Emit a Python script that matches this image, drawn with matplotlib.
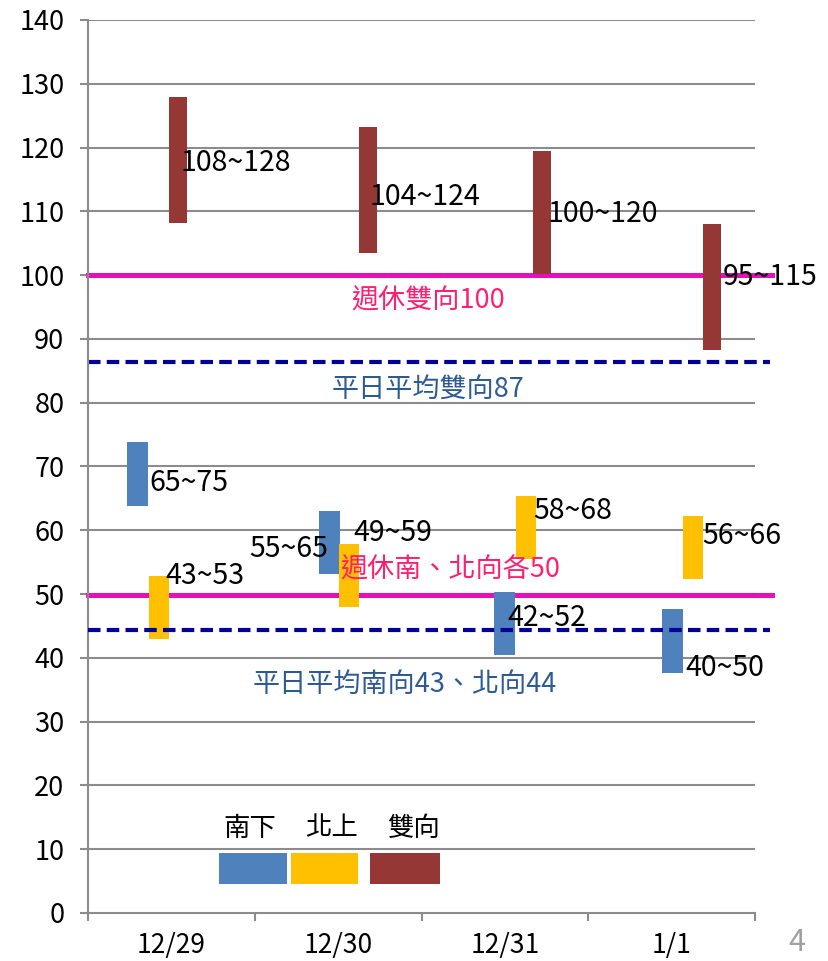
import matplotlib
matplotlib.use('Agg')
import matplotlib.pyplot as plt

plt.rcParams['font.family'] = ['Noto Sans CJK TC', 'DejaVu Sans']

# data
dates = ['12/29', '12/30', '12/31', '1/1']
south_low = [63.85, 53.2, 40.5, 37.7]
south_high = [73.8, 63.0, 50.3, 47.7]
north_low = [43.0, 48.0, 55.5, 52.4]
north_high = [52.8, 57.8, 65.4, 62.2]
both_low = [108.2, 103.5, 100.2, 88.3]
both_high = [127.9, 123.2, 119.5, 108.0]

south_labels = ['65~75', '55~65', '42~52', '40~50']
north_labels = ['43~53', '49~59', '58~68', '56~66']
both_labels = ['108~128', '104~124', '100~120', '95~115']

weekend_both = 100
weekday_both = 86.4
weekend_each = 49.85
weekday_each = 44.4

series_names = ['南下', '北上', '雙向']
colors = ['#4F81BD', '#FFC000', '#953735']

# layout (hand placed in the source slide)
south_x = [-0.203, 0.948, 1.998, 3.005]
north_x = [-0.074, 1.065, 2.124, 3.128]
both_x = [0.040, 1.179, 2.223, 3.242]

fig = plt.figure(figsize=(8.29, 9.61), dpi=100)
ax = fig.add_axes([0.1062, 0.04995, 0.8045, 0.9293])

ax.set_xlim(-0.5, 3.5)
ax.set_ylim(0, 140)

grid_col = '#8C8C8C'
for y in range(10, 141, 10):
    ax.axhline(y, color=grid_col, lw=1.5, zorder=1)

def span(lo, hi):
    return [h - l for l, h in zip(lo, hi)]

ax.bar(south_x, span(south_low, south_high), bottom=south_low, width=0.126, color=colors[0], zorder=3)
ax.bar(north_x, span(north_low, north_high), bottom=north_low, width=0.12, color=colors[1], zorder=3)
ax.bar(both_x, span(both_low, both_high), bottom=both_low, width=0.108, color=colors[2], zorder=3)

# reference lines (run past the plot edge like in the slide)
ax.plot([-0.5, 3.6], [weekend_both] * 2, color='#E60FB9', lw=3.6, zorder=2, clip_on=False)
ax.plot([-0.5, 3.6], [weekend_each] * 2, color='#E60FB9', lw=3.6, zorder=2, clip_on=False)
ax.plot([-0.5, 3.59], [weekday_both] * 2, color='#000099', lw=3, dashes=(3, 1.5), zorder=2, clip_on=False)
ax.plot([-0.5, 3.59], [weekday_each] * 2, color='#000099', lw=3, dashes=(3, 1.5), zorder=4, clip_on=False)

# range labels
num_fs = 20.5
both_pos = [(0.055, 117.6), (1.19, 112.2), (2.257, 109.6), (3.308, 99.7)]
for (x, y), t in zip(both_pos, both_labels):
    ax.text(x, y, t, fontsize=num_fs, va='center', ha='left', zorder=5)
south_pos = [(-0.133, 67.4), (0.94, 57.1), (2.5 - 0.486, 46.2), (3.08, 38.4)]
for i, ((x, y), t) in enumerate(zip(south_pos, south_labels)):
    ax.text(x, y, t, fontsize=num_fs, va='center', ha='right' if i == 1 else 'left', zorder=5)
north_pos = [(-0.037, 52.8), (1.089, 59.6), (2.168, 63.0), (3.182, 59.1)]
for (x, y), t in zip(north_pos, north_labels):
    ax.text(x, y, t, fontsize=num_fs, va='center', ha='left', zorder=5)

pink = '#FF1F6E'
navy = '#2E5A94'
ax.text(1.54, 95.9, '週休雙向100', color=pink, fontsize=19.5, ha='center', va='center')
ax.text(1.54, 82.0, '平日平均雙向87', color=navy, fontsize=19.5, ha='center', va='center')
ax.text(1.011, 53.8, '週休南、北向各50', color=pink, fontsize=19.5, ha='left', va='center', zorder=5)
ax.text(1.4, 35.9, '平日平均南向43、北向44', color=navy, fontsize=19.5, ha='center', va='center')

# hand drawn legend
leg_x = [0.49, 0.918, 1.401]
leg_w = [0.408, 0.402, 0.42]
for x, w, c in zip(leg_x, leg_w, colors):
    ax.bar(x, 4.9, bottom=4.5, width=w, color=c, zorder=3)
leg_text_x = [0.472, 0.963, 1.449]
for x, name in zip(leg_text_x, series_names):
    ax.text(x, 13.3, name, fontsize=19, ha='center', va='center')

# axes styling
for side in ['top', 'right']:
    ax.spines[side].set_visible(False)
for side in ['left', 'bottom']:
    ax.spines[side].set_color(grid_col)
    ax.spines[side].set_linewidth(1.5)

ax.set_yticks(range(0, 141, 10))
ax.tick_params(axis='y', length=6, width=1.5, color=grid_col, pad=11, labelsize=19.5)
ax.set_xticks([-0.5, 0.5, 1.5, 2.5, 3.5])
ax.set_xticklabels([])
ax.set_xticks(range(len(dates)), minor=True)
ax.set_xticklabels(dates, minor=True)
ax.tick_params(axis='x', which='major', length=6, width=1.5, color=grid_col)
ax.tick_params(axis='x', which='minor', length=0, pad=14, labelsize=19)

fig.text(0.961, 0.003, '4', color='#A0A0A0', fontsize=22, ha='center', va='bottom')

fig.savefig('out.png', dpi=100)
